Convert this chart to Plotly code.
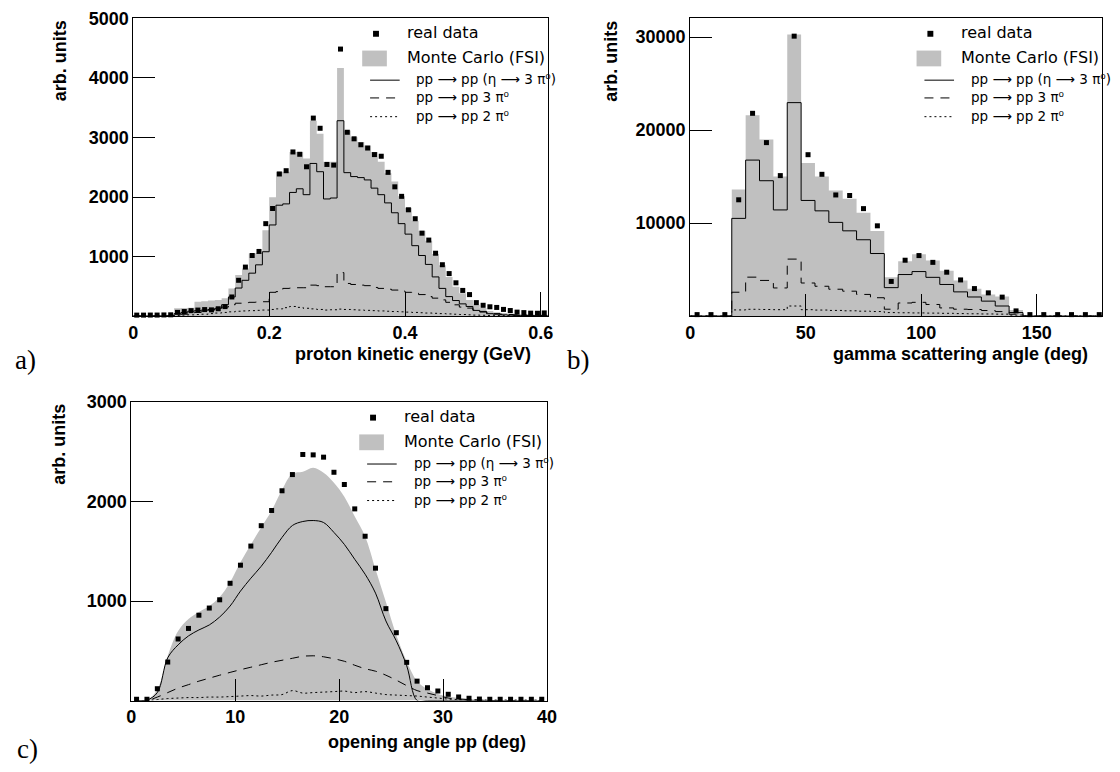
import numpy as np
import plotly.graph_objects as go

# The page body keeps its default 8 px margin, so the figure is 16 px smaller
# than the 1120x772 window and all pixel positions are measured from the window.
OX, OY = 8, 8
FW, FH = 1104, 756

# ---------------- Panel a: proton kinetic energy (bins of 0.01 GeV from 0) ----------------
a_bin0, a_binw = 0.0, 0.01
a_data = [15, 15, 16, 16, 18, 20,
          61, 75, 90, 100, 108, 103, 122, 158,
          320, 600, 822, 1017, 1085, 1552, 1807,
          2387, 2442, 2757, 2718, 2508, 3326, 3155, 2547, 2536, 4486,
          3088, 2978, 2878, 2823, 2713, 2685, 2414, 2171, 2011, 1785,
          1635, 1392, 1276, 1055, 862, 713, 558, 430, 360, 225,
          180, 155, 144, 111, 92, 65, 57, 48, 46, 52]
a_mc = [10, 10, 10, 12, 15, 20,
        130, 135, 140, 240, 250, 260, 270, 300,
        464, 690, 800, 1050, 1060, 1440, 1994,
        2425, 2425, 2757, 2757, 2646, 3282, 3061, 2591, 2591, 4166,
        3116, 3005, 2923, 2867, 2757, 2591, 2398, 2260, 2011, 1818,
        1597, 1431, 1265, 1044, 851, 657, 492, 381, 271, 188,
        133, 85, 65, 50, 40, 35, 30, 25, 22, 20]
a_eta = [0, 0, 0, 0, 0, 5,
         40, 60, 80, 90, 100, 110, 130, 190,
         320, 470, 600, 720, 860, 1080, 1530,
         1862, 1884, 2077, 2138, 2039, 2564, 2425, 1967, 1983, 3282,
         2409, 2343, 2326, 2287, 2149, 2039, 1901, 1735, 1552, 1376,
         1182, 1017, 867, 657, 464, 326, 260, 204, 160, 94,
         66, 39, 30, 20, 15, 10, 8, 5, 5, 5]
a_3pi = [0, 0, 0, 0, 0, 0,
         20, 30, 40, 60, 80, 100, 130, 150,
         190, 215, 225, 230, 235, 240, 398,
         410, 464, 470, 475, 475, 519, 510, 492, 492, 729,
         547, 530, 519, 510, 480, 464, 450, 436, 420, 398,
         381, 360, 326, 300, 271, 230, 188, 150, 133, 100,
         77, 55, 40, 30, 25, 20, 15, 10, 10, 10]
a_2pi = [0, 0, 0, 0, 0, 0,
         10, 15, 20, 25, 30, 40, 50, 60,
         70, 80, 85, 90, 95, 100, 110,
         120, 140, 160, 145, 130, 120, 110, 100, 105, 116,
         110, 105, 100, 95, 90, 85, 80, 75, 70, 65,
         60, 55, 50, 45, 40, 35, 30, 25, 20, 15,
         12, 10, 8, 6, 5, 5, 5, 5, 5, 5]
a_xticks = [0, 0.2, 0.4, 0.6]
a_xticktext = ["0", "0.2", "0.4", "0.6"]
a_yticks = [1000, 2000, 3000, 4000, 5000]

# ---------------- Panel b: gamma scattering angle (bins of 6 deg from 0) ----------------
b_bin0, b_binw = 0.0, 6.0
b_data = [150, 150, 150, 12500, 21800, 18650, 15100, 30100, 17350, 15240,
          13020, 12960, 11550, 9700, 3720, 6000, 6500, 5770, 4710, 3880,
          2950, 2490, 2030, 550, 150, 150, 150, 150, 150, 150]
b_mc = [0, 0, 0, 13600, 21590, 18980, 15010, 30280, 16450, 15000,
        13500, 12600, 11100, 9150, 4180, 5900, 6630, 5960, 4870, 3810,
        2930, 2300, 2100, 650, 0, 0, 0, 0, 0, 0]
b_eta = [0, 0, 0, 10500, 16770, 14550, 11410, 22950, 12430, 11310,
         10070, 9160, 8200, 6720, 3050, 4460, 4780, 4160, 3390, 2595,
         2045, 1600, 1076, 370, 0, 0, 0, 0, 0, 0]
b_3pi = [0, 0, 0, 2557, 4180, 3827, 3016, 6120, 3550, 3200,
         2880, 2670, 2320, 1965, 730, 1400, 1470, 1240, 870, 730,
         700, 590, 476, 194, 0, 0, 0, 0, 0, 0]
b_2pi = [0, 0, 0, 653, 723, 700, 680, 1076, 680, 640,
         600, 560, 520, 480, 370, 350, 330, 310, 290, 260,
         240, 220, 200, 100, 0, 0, 0, 0, 0, 0]
b_xticks = [0, 50, 100, 150]
b_yticks = [10000, 20000, 30000]

# ---------------- Panel c: opening angle pp (bins of 1 deg from 0) ----------------
c_bin0, c_binw = 0.0, 1.0
c_data = [13, 13, 119, 387, 619, 725, 858, 930, 1013, 1179,
          1361, 1553, 1758, 1911, 2109, 2272, 2474, 2470, 2447, 2295,
          2172, 1927, 1652, 1331, 924, 682, 384, 195, 129, 96,
          63, 36, 23, 15, 13, 13, 13, 13, 13, 13]
c_mc = [0, 5, 110, 450, 700, 820, 890, 950, 1040, 1190,
        1390, 1570, 1740, 1910, 2120, 2280, 2300, 2340, 2290, 2190,
        2050, 1850, 1650, 1320, 990, 660, 395, 195, 115, 65,
        40, 25, 15, 10, 5, 3, 2, 0, 0, 0]
c_eta = [0, 5, 80, 430, 560, 650, 710, 760, 840, 950,
         1100, 1230, 1350, 1490, 1640, 1760, 1800, 1810, 1790, 1690,
         1570, 1420, 1270, 1080, 800, 600, 350, 0, 0, 0,
         0, 0, 0, 0, 0, 0, 0, 0, 0, 0]
c_3pi = [0, 0, 35, 80, 125, 160, 195, 225, 255, 283,
         310, 335, 360, 385, 405, 425, 445, 450, 440, 420,
         395, 355, 320, 295, 255, 205, 150, 100, 75, 50,
         25, 15, 10, 5, 0, 0, 0, 0, 0, 0]
c_2pi = [0, 0, 10, 20, 25, 30, 30, 35, 35, 40,
         45, 50, 45, 55, 60, 100, 75, 80, 85, 90,
         95, 80, 90, 75, 60, 55, 50, 45, 35, 25,
         15, 10, 5, 5, 5, 5, 5, 5, 5, 5]
c_xticks = [0, 10, 20, 30, 40]
c_yticks = [1000, 2000, 3000]

legend_labels = ["real data", "Monte Carlo (FSI)",
                 "pp \u27f6 pp (\u03b7 \u27f6 3 \u03c0\u2070)",
                 "pp \u27f6 pp 3 \u03c0\u2070",
                 "pp \u27f6 pp 2 \u03c0\u2070"]

GREY = "#c0c0c0"
DASH = "9px,7px"
DOT = "2px,3px"


def edges_steps(b0, bw, vals):
    n = len(vals)
    x = b0 + bw * np.arange(n + 1)
    y = list(vals) + [vals[-1]]
    return x, y


def centers(b0, bw, n):
    return b0 + bw * (np.arange(n) + 0.5)


fig = go.Figure()


def add_hist_panel(b0, bw, data, mc, eta, p3, p2, xa, ya):
    x, y = edges_steps(b0, bw, mc)
    fig.add_trace(go.Scatter(x=x, y=y, mode="lines", line=dict(shape="hv", width=0, color=GREY),
                             fill="tozeroy", fillcolor=GREY, xaxis=xa, yaxis=ya, showlegend=False))
    for vals, dash in ((eta, "solid"), (p3, DASH), (p2, DOT)):
        x, y = edges_steps(b0, bw, vals)
        fig.add_trace(go.Scatter(x=x, y=y, mode="lines",
                                 line=dict(shape="hv", width=1, color="black", dash=dash),
                                 xaxis=xa, yaxis=ya, showlegend=False))
    fig.add_trace(go.Scatter(x=centers(b0, bw, len(data)), y=data, mode="markers",
                             marker=dict(symbol="square", size=5, color="black"),
                             xaxis=xa, yaxis=ya, showlegend=False, cliponaxis=False))


add_hist_panel(a_bin0, a_binw, a_data, a_mc, a_eta, a_3pi, a_2pi, "x", "y")
add_hist_panel(b_bin0, b_binw, b_data, b_mc, b_eta, b_3pi, b_2pi, "x2", "y2")

# panel c: smooth curves
cx = centers(c_bin0, c_binw, len(c_data))
fig.add_trace(go.Scatter(x=cx, y=c_mc, mode="lines", line=dict(shape="spline", width=0, color=GREY),
                         fill="tozeroy", fillcolor=GREY, xaxis="x3", yaxis="y3", showlegend=False))
for vals, dash in ((c_eta, "solid"), (c_3pi, DASH), (c_2pi, DOT)):
    fig.add_trace(go.Scatter(x=cx, y=vals, mode="lines",
                             line=dict(shape="spline", width=1, color="black", dash=dash),
                             xaxis="x3", yaxis="y3", showlegend=False))
fig.add_trace(go.Scatter(x=cx, y=c_data, mode="markers",
                         marker=dict(symbol="square", size=5, color="black"),
                         xaxis="x3", yaxis="y3", showlegend=False, cliponaxis=False))

TICKFONT = dict(family="Liberation Sans, Arial, sans-serif", size=18, color="black", weight="bold")


def PX(x):
    return min(max((x - OX) / FW, 0.0), 1.0)


def PY(y):
    return min(max(1 - (y - OY) / FH, 0.0), 1.0)


def xax(x0, x1, rng, tv, tt, tl):
    return dict(domain=[PX(x0), PX(x1)], range=rng, showline=True, mirror=True, linecolor="black",
                linewidth=1, ticks="inside", ticklen=tl, tickwidth=1, tickcolor="black",
                tickvals=tv, ticktext=tt, showgrid=False, zeroline=False, tickfont=TICKFONT)


def yax(ytop, ybot, rng, tv, tl):
    return dict(domain=[PY(ybot), PY(ytop)], range=rng, showline=True, mirror=True, linecolor="black",
                linewidth=1, ticks="inside", ticklen=tl, tickwidth=1, tickcolor="black",
                tickvals=tv, ticktext=[str(v) for v in tv], showgrid=False, zeroline=False,
                tickfont=TICKFONT)


# panel b: frame ends at the page edge, keep the reference's px-per-degree scale
b_x0_px, b_px_per_deg = 694.5, 2.343
b_right_px = OX + FW
b_xmax = (b_right_px - b_x0_px) / b_px_per_deg

fig.update_layout(
    width=FW, height=FH, margin=dict(l=0, r=0, t=0, b=0),
    paper_bgcolor="white", plot_bgcolor="white",
    xaxis=dict(xax(130, 550, [0, 0.61], a_xticks, a_xticktext, 24), anchor="y"),
    yaxis=dict(yax(8.5, 310, [0, 5000], a_yticks, 22), anchor="x"),
    xaxis2=dict(xax(b_x0_px, b_right_px, [0, b_xmax], b_xticks, [str(v) for v in b_xticks], 22),
                anchor="y2"),
    yaxis2=dict(yax(8.5, 310, [0, 32000], b_yticks, 22), anchor="x2"),
    xaxis3=dict(xax(128, 549.3, [0, 40], c_xticks, [str(v) for v in c_xticks], 22), anchor="y3"),
    yaxis3=dict(yax(397.3, 699.7, [0, 3000], c_yticks, 22), anchor="x3"),
)

ann = []
shapes = []
BOLD = dict(family="Liberation Sans, Arial, sans-serif", size=18, color="black", weight="bold")
SERIF = dict(family="Liberation Serif, serif", size=27, color="black")
LEGF = dict(family="DejaVu Sans, sans-serif", size=16, color="black")
LEGF2 = dict(family="DejaVu Sans, sans-serif", size=13.5, color="black")


def text(x, y, s, font, xa="left", ya="middle", angle=0):
    ann.append(dict(x=PX(x), y=PY(y), xref="paper", yref="paper", text=s, showarrow=False,
                    font=font, xanchor=xa, yanchor=ya, textangle=angle))


# axis titles
text(535, 348, "proton kinetic energy (GeV)", BOLD, xa="right")
text(1100, 348, "gamma scattering angle (deg)", BOLD, xa="right")
text(530, 742, "opening angle pp (deg)", BOLD, xa="right")
text(56, 8.5, "arb. units", BOLD, xa="center", ya="top", angle=-90)
text(614, 8.5, "arb. units", BOLD, xa="center", ya="top", angle=-90)
text(55, 397, "arb. units", BOLD, xa="center", ya="top", angle=-90)
# panel tags
text(8, 355, "a)", SERIF)
text(568, 355, "b)", SERIF)
text(10, 749, "c)", SERIF)


def legend(dx, dy):
    shapes.append(dict(type="rect", xref="paper", yref="paper",
                       x0=PX(373 + dx), y0=PY(27 + dy), x1=PX(379 + dx), y1=PY(21 + dy),
                       fillcolor="black", line=dict(width=0)))
    text(405 + dx, 23 + dy, legend_labels[0], LEGF)
    shapes.append(dict(type="rect", xref="paper", yref="paper",
                       x0=PX(362 + dx), y0=PY(57 + dy), x1=PX(387 + dx), y1=PY(41 + dy),
                       fillcolor=GREY, line=dict(width=0)))
    text(405 + dx, 48 + dy, legend_labels[1], LEGF)
    for i, (yy, dash) in enumerate(((71, "solid"), (89, DASH), (108, DOT))):
        shapes.append(dict(type="line", xref="paper", yref="paper",
                           x0=PX(370 + dx), y0=PY(yy + dy), x1=PX(400 + dx), y1=PY(yy + dy),
                           line=dict(color="black", width=1, dash=dash)))
        text(415 + dx, yy - 1 + dy, legend_labels[2 + i], LEGF2)


legend(0, 0)
legend(562, 0)
legend(-3, 389)

fig.update_layout(annotations=ann, shapes=shapes)

fig.write_html("out.html", config={"displayModeBar": False})
